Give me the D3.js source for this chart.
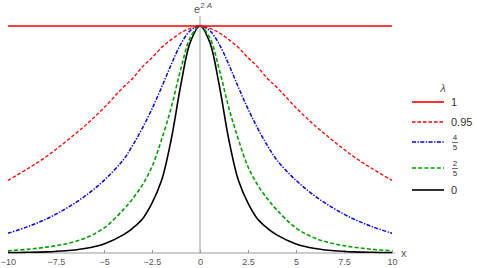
<!DOCTYPE html>
<html>
<head>
<meta charset="utf-8">
<script src="https://cdn.jsdelivr.net/npm/d3@7"></script>
<style>
  body { margin: 0; background: #fff; }
  svg { font-family: "Liberation Sans", Arial, sans-serif; }
</style>
</head>
<body>
<svg id="chart" width="477" height="268"></svg>
<script>
// x positions where the curves were read
var xs = [-10, -9, -8, -7, -6, -5, -4, -3.5, -3, -2.5, -2, -1.5, -1, -0.5, 0,
          0.5, 1, 1.5, 2, 2.5, 3, 3.5, 4, 5, 6, 7, 8, 9, 10];

// e^{2A} for each lambda
var lam1    = [1, 1, 1, 1, 1, 1, 1, 1, 1, 1, 1, 1, 1, 1, 1,
               1, 1, 1, 1, 1, 1, 1, 1, 1, 1, 1, 1, 1, 1];
var lam095  = [0.32, 0.37, 0.425, 0.49, 0.56, 0.64, 0.73, 0.77, 0.82, 0.86, 0.905, 0.94, 0.97, 0.99, 1,
               0.99, 0.97, 0.94, 0.905, 0.86, 0.82, 0.77, 0.73, 0.64, 0.56, 0.49, 0.425, 0.37, 0.32];
var lam45   = [0.087, 0.115, 0.15, 0.195, 0.25, 0.32, 0.41, 0.475, 0.55, 0.635, 0.73, 0.83, 0.92, 0.98, 1,
               0.98, 0.92, 0.83, 0.73, 0.635, 0.55, 0.475, 0.41, 0.32, 0.25, 0.195, 0.15, 0.115, 0.087];
var lam25   = [0.01, 0.016, 0.026, 0.04, 0.065, 0.11, 0.19, 0.24, 0.30, 0.38, 0.50, 0.64, 0.81, 0.95, 1,
               0.95, 0.81, 0.64, 0.50, 0.38, 0.30, 0.24, 0.19, 0.11, 0.065, 0.04, 0.026, 0.016, 0.01];
var lam0    = [0.002, 0.003, 0.005, 0.01, 0.02, 0.04, 0.08, 0.11, 0.15, 0.22, 0.32, 0.50, 0.74, 0.93, 1,
               0.93, 0.74, 0.50, 0.32, 0.22, 0.15, 0.11, 0.08, 0.04, 0.02, 0.01, 0.005, 0.003, 0.002];

var xTicks = [-10, -7.5, -5, -2.5, 0, 2.5, 5, 7.5, 10];

var series = [
  {label: '1',    num: null, values: lam1,   color: '#ff0000', dash: null,          w: 1.6},
  {label: '0.95', num: null, values: lam095, color: '#ff0000', dash: '3.5,2',       w: 1.3},
  {label: null,   num: ['4','5'], values: lam45, color: '#0000ff', dash: '4,1.5,1.3,1.5', w: 1.5},
  {label: null,   num: ['2','5'], values: lam25, color: '#00a000', dash: '4,2.2',   w: 1.6},
  {label: '0',    num: null, values: lam0,   color: '#000000', dash: null,          w: 1.6}
];

var svg = d3.select('#chart');

var x = d3.scaleLinear().domain([-10, 10]).range([8, 392]);
var y = d3.scaleLinear().domain([0, 1]).range([253, 26]);

// axes
var axisG = svg.append('g').attr('transform', 'translate(0,' + y(0) + ')');
axisG.call(d3.axisBottom(x).tickValues(xTicks).tickSize(-3).tickPadding(6)
  .tickFormat(function(d) { return d3.format('')(d).replace('-', '\u2212'); }));
axisG.select('.domain').attr('stroke', '#999').attr('d', 'M' + x(-10) + ',0H' + 395);
axisG.selectAll('.tick line').attr('stroke', '#999');
axisG.selectAll('.tick text').attr('fill', '#555').style('font-size', '9px');

svg.append('line')
  .attr('x1', x(0)).attr('x2', x(0))
  .attr('y1', 16).attr('y2', y(0))
  .attr('stroke', '#999');

svg.append('text').attr('x', 401).attr('y', y(0) + 4)
  .attr('fill', '#555').style('font-size', '11px').text('x');

var yl = svg.append('text').attr('x', 194).attr('y', 13)
  .attr('fill', '#555').style('font-size', '11px');
yl.append('tspan').text('e');
yl.append('tspan').attr('dy', -5).style('font-size', '8px').text('2 ');
yl.append('tspan').style('font-size', '8px').style('font-style', 'italic').text('A');

// curves
var line = d3.line()
  .x(function(d, i) { return x(xs[i]); })
  .y(function(d) { return y(d); })
  .curve(d3.curveCatmullRom.alpha(0.5));

svg.selectAll('path.curve')
  .data(series.slice().reverse())
  .enter()
  .append('path')
  .attr('class', 'curve')
  .attr('d', function(d) { return line(d.values); })
  .attr('fill', 'none')
  .attr('stroke', function(d) { return d.color; })
  .attr('stroke-width', function(d) { return d.w; })
  .attr('stroke-dasharray', function(d) { return d.dash; });

// legend
var legY = [102, 122, 142, 168, 190];
svg.append('text').attr('x', 443).attr('y', 92)
  .attr('fill', '#555').style('font-size', '11px').style('font-style', 'italic')
  .attr('text-anchor', 'middle').text('\u03bb');

var leg = svg.selectAll('g.leg')
  .data(series)
  .enter()
  .append('g')
  .attr('class', 'leg')
  .attr('transform', function(d, i) { return 'translate(0,' + legY[i] + ')'; });

leg.append('line')
  .attr('x1', 412).attr('x2', 444)
  .attr('stroke', function(d) { return d.color; })
  .attr('stroke-width', function(d) { return d.w; })
  .attr('stroke-dasharray', function(d) { return d.dash; });

leg.filter(function(d) { return d.label; })
  .append('text')
  .attr('x', 451).attr('y', 4)
  .attr('fill', '#333').style('font-size', '11px')
  .text(function(d) { return d.label; });

var frac = leg.filter(function(d) { return d.num; });
frac.append('text').attr('x', 455).attr('y', -2).attr('text-anchor', 'middle')
  .attr('fill', '#333').style('font-size', '8px')
  .text(function(d) { return d.num[0]; });
frac.append('line').attr('x1', 452).attr('x2', 458).attr('y1', 0.5).attr('y2', 0.5)
  .attr('stroke', '#333').attr('stroke-width', 0.7);
frac.append('text').attr('x', 455).attr('y', 8).attr('text-anchor', 'middle')
  .attr('fill', '#333').style('font-size', '8px')
  .text(function(d) { return d.num[1]; });
</script>
</body>
</html>
